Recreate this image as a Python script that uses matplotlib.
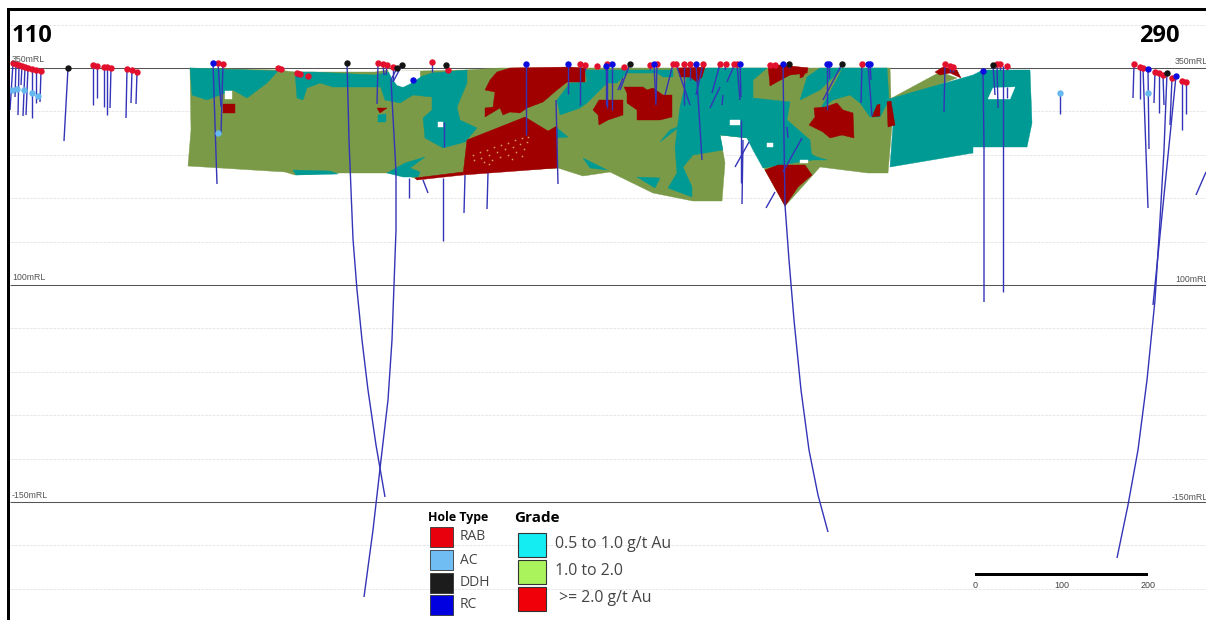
"""Cross section of drill holes and gold grade shells, 110 to 290."""

import matplotlib

matplotlib.use("Agg")

import matplotlib.pyplot as plt
from matplotlib.patches import Polygon, Rectangle

SOLID_LEVELS = [68, 285, 502]
DOTTED_LEVELS = [24.6, 111.4, 154.8, 198.2, 241.6, 328.4, 371.8, 415.2, 458.6, 545.4, 588.8]
LEFT_LEVEL_LABELS = [(12, 60, "350mRL"), (12, 277, "100mRL"), (12, 495, "-150mRL")]
RIGHT_LEVEL_LABELS = [(1175, 61, "350mRL"), (1175, 279, "100mRL"), (1172, 497, "-150mRL")]

green_outline = [
    (190, 68), (278, 70), (295, 72), (375, 72), (388, 70), (420, 71), (465, 70), (500, 68), (890, 68),
    (891, 99), (892, 125), (888, 173), (868, 173), (820, 167), (812, 176), (785, 206), (765, 170),
    (748, 138), (720, 135), (725, 163), (722, 201), (693, 201), (653, 193), (610, 172), (583, 176),
    (558, 168), (467, 173), (417, 179), (400, 173), (340, 173), (295, 175), (285, 172), (188, 166),
    (191, 130),
]
green_wedge = [(890, 99), (940, 72), (957, 78), (892, 103)]

teal_block = [
    (889, 99), (973, 75), (983, 70), (1030, 70), (1032, 123), (1027, 147), (973, 147), (973, 153),
    (890, 167), (893, 125),
]
teal_patches = [
    [(190, 68), (278, 71), (267, 83), (247, 98), (233, 90), (207, 100), (192, 95)],
    [(295, 72), (313, 72), (375, 75), (380, 87), (333, 87), (320, 83), (307, 88), (303, 100), (297, 98)],
    [(375, 75), (390, 72), (400, 87), (400, 103), (385, 100), (381, 88)],
    [(378, 115), (386, 114), (386, 122), (378, 122)],
    [(400, 87), (413, 82), (420, 77), (432, 73), (467, 70), (467, 83), (457, 107), (460, 120), (477, 128),
     (465, 142), (443, 148), (425, 138), (423, 118), (432, 110), (432, 97), (413, 95), (400, 103)],
    [(387, 173), (405, 163), (425, 157), (410, 168), (420, 172), (418, 177), (403, 177)],
    [(293, 170), (330, 171), (338, 174), (296, 175)],
    [(585, 70), (673, 70), (673, 77), (663, 77), (657, 73), (627, 73), (617, 83), (607, 83), (597, 93),
     (587, 103), (580, 108), (560, 115), (557, 100), (570, 83), (587, 82)],
    [(680, 107), (687, 77), (707, 68), (767, 68), (753, 80), (753, 98), (790, 102), (787, 120), (810, 140),
     (812, 160), (763, 168), (753, 150), (747, 138), (720, 135), (723, 150), (693, 155), (683, 167),
     (692, 187), (692, 197), (668, 188), (677, 173), (675, 147)],
    [(583, 158), (607, 170), (590, 168)],
    [(637, 177), (660, 178), (655, 188)],
    [(660, 142), (682, 125), (670, 130)],
    [(557, 128), (568, 137), (557, 138)],
    [(843, 68), (887, 68), (889, 100), (880, 117), (870, 117), (860, 103), (850, 95), (833, 100), (820, 110)],
    [(807, 77), (820, 68), (843, 68), (820, 90), (800, 100)],
    [(803, 150), (817, 157), (827, 160), (808, 160), (800, 143)],
]
red_patches = [
    [(510, 68), (570, 67), (585, 68), (585, 82), (567, 82), (557, 90), (543, 102), (527, 108), (520, 113),
     (510, 112), (503, 115), (500, 108), (485, 117), (485, 108), (493, 107), (495, 92), (485, 90), (490, 80), (497, 72)],
    [(525, 117), (548, 131), (557, 126), (557, 168), (463, 175), (467, 140)],
    [(415, 178), (463, 172), (463, 175), (417, 180)],
    [(593, 110), (599, 100), (623, 100), (623, 115), (608, 120), (599, 125), (598, 115)],
    [(624, 87), (643, 87), (647, 90), (653, 88), (663, 95), (672, 95), (672, 117), (660, 120), (637, 120),
     (637, 110), (627, 103), (627, 93)],
    [(678, 68), (705, 67), (702, 77), (697, 82), (690, 77), (680, 77)],
    [(768, 65), (783, 65), (808, 68), (807, 73), (790, 75), (777, 82), (770, 86)],
    [(765, 170), (778, 165), (805, 165), (812, 175), (798, 187), (785, 206)],
    [(809, 125), (815, 117), (814, 108), (825, 107), (837, 103), (843, 110), (853, 113), (854, 138),
     (842, 135), (830, 138), (823, 132)],
    [(872, 117), (877, 105), (880, 104), (880, 116)],
    [(887, 102), (891, 101), (895, 125), (888, 127)],
    [(935, 72), (943, 67), (957, 70), (961, 78), (950, 73), (940, 75)],
    [(800, 68), (808, 68), (803, 77), (800, 78)],
    [(223, 104), (235, 104), (235, 113), (223, 113)],
    [(377, 108), (387, 108), (380, 113)],
]
white_gaps = [
    [(225, 91), (232, 91), (232, 99), (225, 99)],
    [(388, 70), (420, 71), (420, 77), (413, 82), (403, 87), (397, 85), (392, 78)],
    [(438, 122), (443, 122), (443, 127), (438, 127)],
    [(730, 120), (740, 120), (740, 125), (730, 125)],
    [(767, 143), (773, 143), (773, 147), (767, 147)],
    [(800, 160), (808, 160), (808, 163), (800, 163)],
    [(988, 99), (993, 88), (1015, 87), (1010, 99)],
]
ore_dots_x = [473, 480, 487, 494, 501, 508, 515, 522, 528, 474, 481, 489, 497, 505, 513, 520, 527, 484, 492, 500, 508, 516, 524, 489, 512, 522]
ore_dots_y = [155, 152, 150, 147, 145, 143, 140, 138, 137, 160, 158, 155, 152, 149, 147, 144, 142, 162, 160, 157, 155, 152, 149, 164, 159, 156]

# holes: collar first, then the trace
rab_holes = [
    [(13, 63), (10, 110)], [(16, 64), (15, 97)], [(19, 65), (18, 115)], [(22, 66), (21, 85)], [(25, 67), (23, 116)],
    [(28, 68), (26, 115)], [(32, 69), (32, 118)], [(36, 70), (36, 103)], [(41, 71), (40, 102)],
    [(93, 65), (93, 105)], [(97, 66), (97, 98)], [(104, 67), (104, 107)], [(107, 67), (107, 115)], [(111, 68), (110, 108)],
    [(127, 69), (126, 118)], [(132, 70), (131, 103)], [(137, 72), (136, 104)],
    [(218, 63), (221, 107)], [(223, 64), (221, 133)],
    [(278, 68), (278, 70)], [(281, 69), (281, 71)], [(297, 73), (297, 77)], [(300, 74), (300, 77)], [(308, 76), (308, 78)],
    [(378, 63), (377, 104)], [(383, 64), (384, 75)], [(387, 65), (386, 75)], [(393, 67), (393, 80)],
    [(432, 62), (432, 72)], [(448, 70), (448, 72)],
    [(580, 64), (580, 105)], [(585, 65), (585, 70)], [(597, 66), (597, 68)], [(607, 64), (607, 108)], [(624, 67), (622, 70)],
    [(650, 65), (650, 70)], [(657, 64), (656, 100)], [(673, 64), (665, 95)], [(676, 64), (690, 105)], [(684, 64), (684, 105)],
    [(690, 64), (690, 80)], [(703, 64), (696, 95)], [(720, 64), (712, 93)], [(726, 64), (725, 70)], [(734, 64), (733, 68)],
    [(737, 64), (740, 100)], [(770, 65), (770, 68)], [(775, 65), (775, 68)],
    [(862, 64), (861, 103)], [(945, 64), (944, 112)], [(950, 66), (950, 72)], [(953, 67), (953, 72)],
    [(997, 64), (998, 108)], [(1000, 64), (1000, 70)], [(1007, 66), (1007, 70)],
    [(1134, 64), (1133, 98)], [(1140, 67), (1140, 99)], [(1143, 68), (1148, 208)], [(1155, 72), (1154, 103)],
    [(1159, 73), (1159, 113)], [(1163, 75), (1164, 105)], [(1172, 78), (1170, 125)], [(1182, 81), (1182, 130)], [(1186, 82), (1186, 114)],
]
ac_holes = [
    [(12, 90), (12, 91)], [(17, 89), (17, 90)], [(24, 90), (24, 91)], [(32, 93), (32, 94)], [(38, 96), (38, 97)],
    [(218, 133), (218, 134)], [(1060, 93), (1060, 114)], [(1148, 93), (1148, 94)],
]
ddh_holes = [
    [(68, 68), (64, 141)],
    [(347, 63), (348, 100), (349, 140), (351, 190), (353, 239), (357, 290), (362, 340), (368, 390), (376, 445), (385, 497)],
    [(397, 68), (391, 80), (396, 172), (396, 230), (394, 285), (392, 340), (388, 400), (381, 460), (373, 530), (364, 597)],
    [(402, 65), (393, 82)], [(446, 65), (446, 72)], [(630, 64), (620, 90)], [(789, 64), (789, 68)],
    [(842, 64), (823, 100)], [(993, 65), (995, 95)],
    [(1167, 73), (1164, 150), (1160, 220), (1155, 300), (1147, 380), (1138, 450), (1128, 505), (1117, 558)],
]
rc_holes = [
    [(213, 63), (217, 184)], [(413, 80), (413, 82)],
    [(526, 64), (526, 135)], [(568, 64), (568, 94)], [(606, 66), (606, 105)], [(612, 64), (612, 110)],
    [(654, 64), (656, 105)], [(696, 64), (702, 160)], [(740, 64), (741, 97)],
    [(783, 64), (784, 140), (785, 205), (789, 260), (794, 320), (801, 390), (809, 450), (818, 495), (828, 532)],
    [(827, 64), (827, 110)], [(829, 64), (829, 78)], [(868, 64), (872, 116)], [(870, 64), (871, 80)],
    [(983, 71), (984, 148), (984, 302)], [(1148, 69), (1149, 149)], [(1176, 76), (1153, 305)],
]
loose_traces = [
    [(720, 87), (710, 108)], [(723, 95), (722, 105)], [(733, 68), (727, 82)],
    [(409, 178), (409, 198)], [(423, 180), (428, 193)], [(443, 178), (443, 241)], [(465, 175), (464, 213)],
    [(488, 173), (487, 209)], [(556, 100), (558, 184)], [(444, 122), (444, 147)], [(741, 120), (741, 183)],
    [(743, 140), (742, 204)], [(749, 142), (735, 167)], [(802, 138), (783, 172)], [(775, 192), (766, 208)],
    [(787, 127), (788, 138)], [(623, 78), (618, 90)], [(1003, 66), (1003, 292)], [(1007, 87), (1007, 98)],
    [(1206, 172), (1196, 195)],
]

hole_legend_names = ["RAB", "AC", "DDH", "RC"]
hole_legend_colors = ["#e8000c", "#6fbdf2", "#1c1c1c", "#0000e0"]
hole_legend_tops = [527, 550, 573, 595]
grade_legend_names = ["0.5 to 1.0 g/t Au", "1.0 to 2.0", " >= 2.0 g/t Au"]
grade_legend_colors = ["#14eef2", "#abf35c", "#f00008"]
grade_legend_tops = [533, 560, 587]
scale_marks = [975, 1061.5, 1148]
scale_names = ["0", "100", "200"]

TEAL = "#009a94"
GREEN = "#7a9a48"
DARK_RED = "#a00000"
TRACE = "#3434b8"
COLLARS = {"rab": "#e2102c", "ac": "#66b8ee", "ddh": "#141414", "rc": "#0c0ce0"}


def draw_patches(axis, patches, color, zorder):
    for points in patches:
        axis.add_patch(Polygon(points, closed=True, facecolor=color, edgecolor=color, linewidth=0.3, zorder=zorder))


def draw_trace(axis, points):
    axis.plot([p[0] for p in points], [p[1] for p in points], color=TRACE, lw=1.0, zorder=6, solid_capstyle="butt")


def draw_holes(axis, holes, color):
    for hole in holes:
        draw_trace(axis, hole)
        axis.plot(hole[0][0], hole[0][1], "o", color=color, ms=4.6, mew=0, zorder=7)


fig = plt.figure(figsize=(12.06, 6.2), dpi=100)
ax = fig.add_axes([0, 0, 1, 1])
ax.set_xlim(0, 1206)
ax.set_ylim(620, 0)
ax.axis("off")

ax.hlines(DOTTED_LEVELS, 10, 1206, color="#e8e8e8", lw=0.7, linestyles=(0, (3, 1)), zorder=1)
ax.hlines(SOLID_LEVELS, 10, 1206, color="#555555", lw=0.75, zorder=1)
for x, y, label in LEFT_LEVEL_LABELS + RIGHT_LEVEL_LABELS:
    ax.text(x, y, label, fontsize=6.3, color="#555555", family="Liberation Sans", va="center", zorder=8)

draw_patches(ax, [green_outline, green_wedge], GREEN, 2)
draw_patches(ax, [teal_block] + teal_patches, TEAL, 3)
draw_patches(ax, red_patches, DARK_RED, 4)
draw_patches(ax, white_gaps, "white", 5)
ax.plot(ore_dots_x, ore_dots_y, "s", color="#d8a060", ms=1.1, mew=0, zorder=5)

for trace in loose_traces:
    draw_trace(ax, trace)
draw_holes(ax, rab_holes, COLLARS["rab"])
draw_holes(ax, ac_holes, COLLARS["ac"])
draw_holes(ax, ddh_holes, COLLARS["ddh"])
draw_holes(ax, rc_holes, COLLARS["rc"])

ax.text(12, 36, "110", fontsize=17, fontweight="bold", family="Open Sans", va="center", color="black", zorder=9)
ax.text(1139, 36, "290", fontsize=17, fontweight="bold", family="Open Sans", va="center", color="black", zorder=9)

# hole type legend
ax.text(428, 518, "Hole Type", fontsize=8.9, fontweight="bold", family="Open Sans", va="center", zorder=9)
for name, color, top in zip(hole_legend_names, hole_legend_colors, hole_legend_tops):
    ax.add_patch(Rectangle((430, top), 23, 20, facecolor=color, edgecolor="#333333", lw=0.6, zorder=9))
    ax.text(460, top + 10, name, fontsize=10, color="#444444", family="Open Sans", va="center", zorder=9)

# grade legend
ax.text(514, 518, "Grade", fontsize=11, fontweight="bold", family="Open Sans", va="center", zorder=9)
for name, color, top in zip(grade_legend_names, grade_legend_colors, grade_legend_tops):
    ax.add_patch(Rectangle((518, top), 28, 24, facecolor=color, edgecolor="#333333", lw=0.8, zorder=9))
    ax.text(555, top + 11, name, fontsize=11.4, color="#444444", family="Open Sans", va="center", zorder=9)

# scale bar
ax.add_patch(Rectangle((scale_marks[0], 573), scale_marks[-1] - scale_marks[0], 3, facecolor="black", edgecolor="none", zorder=9))
for x, label in zip(scale_marks, scale_names):
    ax.text(x, 585, label, fontsize=6.5, color="#444444", family="Liberation Sans", ha="center", va="center", zorder=9)

# black frame on the left and top only
ax.add_patch(Rectangle((7, 8), 1199, 3, facecolor="black", edgecolor="none", zorder=10))
ax.add_patch(Rectangle((7, 8), 3, 612, facecolor="black", edgecolor="none", zorder=10))

fig.savefig("out.png", dpi=100)
plt.close(fig)
